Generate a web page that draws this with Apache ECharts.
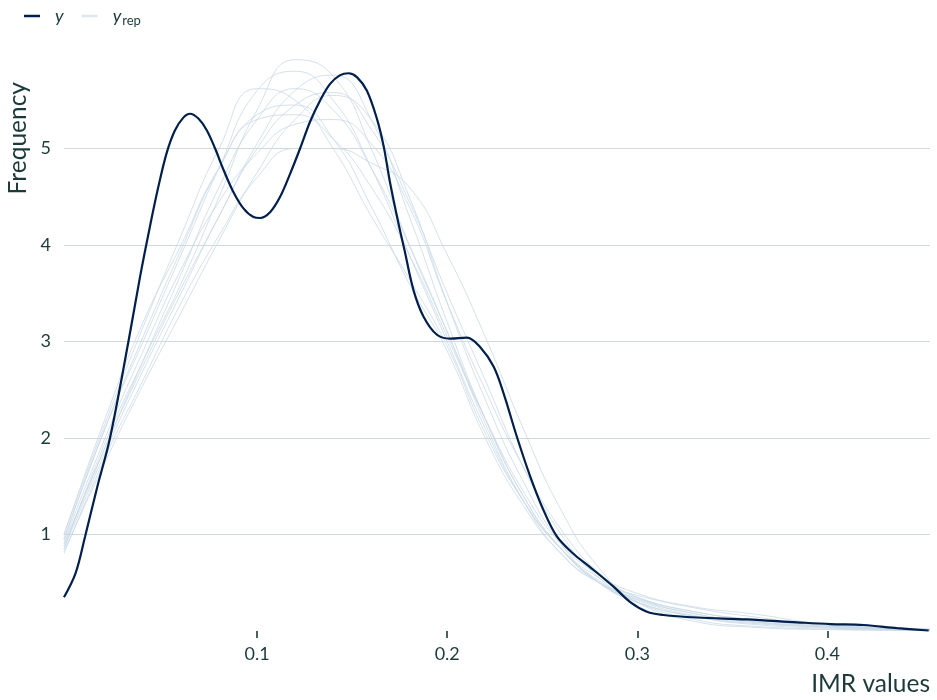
<!DOCTYPE html>
<html>
<head>
<meta charset="utf-8">
<script src="https://cdn.jsdelivr.net/npm/echarts@6/dist/echarts.min.js"></script>
<style>
html,body{margin:0;padding:0;background:#fff;}
#chart{width:937px;height:700px;}
</style>
</head>
<body>
<div id="chart"></div>
<script>
// Observed density (y)
const yX = [-0.0016, 0.0045, 0.0095, 0.016, 0.0226, 0.0323, 0.0385, 0.0437, 0.0480, 0.0525, 0.0568, 0.0612, 0.0647, 0.0691, 0.0735, 0.0779, 0.0823, 0.0875, 0.0928, 0.0981, 0.1016, 0.1068, 0.1121, 0.1174, 0.1226, 0.1279, 0.1332, 0.1384, 0.1437, 0.1481, 0.1525, 0.1577, 0.1630, 0.1665, 0.1700, 0.1744, 0.1775, 0.1823, 0.1875, 0.1946, 0.2016, 0.2104, 0.2174, 0.2244, 0.2297, 0.2367, 0.2437, 0.2507, 0.2577, 0.2664, 0.2753, 0.2875, 0.2963, 0.3051, 0.3138, 0.3314, 0.3577, 0.3841, 0.4016, 0.4191, 0.4367, 0.4533];
const yY = [0.35, 0.6, 0.98, 1.5, 2.0, 3.0, 3.68, 4.2, 4.6, 4.96, 5.19, 5.32, 5.36, 5.31, 5.19, 5.0, 4.78, 4.55, 4.38, 4.29, 4.28, 4.34, 4.50, 4.74, 5.0, 5.28, 5.50, 5.67, 5.76, 5.78, 5.74, 5.60, 5.31, 5.03, 4.64, 4.22, 3.95, 3.53, 3.26, 3.07, 3.03, 3.04, 2.94, 2.74, 2.46, 2.01, 1.60, 1.25, 0.98, 0.80, 0.66, 0.46, 0.30, 0.20, 0.166, 0.14, 0.12, 0.09, 0.072, 0.062, 0.03, 0.005];

// Replicated densities (y_rep)
const repX = [-0.0016, 0.02, 0.04, 0.06, 0.08, 0.10, 0.12, 0.14, 0.16, 0.18, 0.20, 0.22, 0.24, 0.26, 0.28, 0.30, 0.33, 0.36, 0.40, 0.454];
const rep1  = [0.85, 1.95, 2.8, 3.6, 4.5, 5.4, 5.92, 5.75, 5.0, 4.0, 3.1, 2.2, 1.4, 0.85, 0.5, 0.3, 0.15, 0.08, 0.04, 0.01];
const rep2  = [0.95, 2.1, 3.0, 3.9, 4.8, 5.6, 5.8, 5.5, 4.8, 3.9, 3.0, 2.1, 1.35, 0.85, 0.55, 0.35, 0.2, 0.12, 0.05, 0.01];
const rep3  = [0.9, 1.9, 2.75, 3.55, 4.3, 5.05, 5.6, 5.76, 5.3, 4.3, 3.2, 2.2, 1.4, 0.85, 0.5, 0.32, 0.16, 0.09, 0.04, 0.01];
const rep4  = [1.0, 2.15, 3.15, 4.1, 5.0, 5.62, 5.5, 5.0, 4.3, 3.65, 2.95, 2.05, 1.35, 0.85, 0.52, 0.33, 0.18, 0.1, 0.05, 0.015];
const rep5  = [0.88, 1.9, 2.8, 3.7, 4.6, 5.3, 5.62, 5.4, 4.8, 4.0, 3.1, 2.15, 1.35, 0.8, 0.5, 0.37, 0.24, 0.15, 0.06, 0.015];
const rep6  = [1.0, 2.2, 3.2, 4.0, 4.8, 5.3, 5.35, 5.1, 4.6, 3.9, 3.05, 2.2, 1.45, 0.9, 0.58, 0.39, 0.25, 0.18, 0.07, 0.02];
const rep7  = [0.92, 2.0, 2.9, 3.75, 4.45, 4.95, 5.25, 5.3, 5.05, 4.4, 3.4, 2.5, 1.7, 1.05, 0.6, 0.35, 0.18, 0.1, 0.04, 0.01];
const rep8  = [0.85, 1.85, 2.7, 3.5, 4.3, 5.0, 5.45, 5.58, 5.2, 4.45, 3.5, 2.6, 1.7, 1.0, 0.55, 0.3, 0.12, 0.05, 0.02, 0.005];
const rep9  = [0.8, 1.8, 2.6, 3.4, 4.1, 4.7, 5.0, 5.0, 4.85, 4.6, 3.9, 3.05, 2.1, 1.25, 0.65, 0.3, 0.1, 0.04, 0.015, 0.005];
const rep10 = [0.95, 2.1, 3.05, 3.95, 4.8, 5.35, 5.45, 5.1, 4.4, 3.6, 2.9, 2.0, 1.3, 0.8, 0.5, 0.34, 0.2, 0.12, 0.06, 0.02];
const rep11 = [0.82, 1.75, 2.55, 3.3, 4.05, 4.75, 5.3, 5.55, 5.3, 4.5, 3.4, 2.4, 1.55, 0.9, 0.5, 0.3, 0.15, 0.07, 0.03, 0.01];
const repList = [rep1, rep2, rep3, rep4, rep5, rep6, rep7, rep8, rep9, rep10, rep11];

// Axis ticks
const xTicks = [0.1, 0.2, 0.3, 0.4];
const yTicks = [1, 2, 3, 4, 5];

const TXT = '#1c3a3a';
const FONT = 'Lato';
const REP_COLOR = '#c9d9e6';
const Y_COLOR = '#011f4b';

const zip = (xs, ys) => xs.map((x, i) => [x, ys[i]]);

const series = repList.map(r => ({
  name: 'y_rep',
  type: 'line',
  data: zip(repX, r),
  smooth: 0.5,
  symbol: 'none',
  showSymbol: false,
  silent: true,
  lineStyle: { color: REP_COLOR, width: 0.8 },
  itemStyle: { color: REP_COLOR },
  z: 2
}));
series.push({
  name: 'y',
  type: 'line',
  data: zip(yX, yY),
  smooth: 0.35,
  symbol: 'none',
  showSymbol: false,
  lineStyle: { color: Y_COLOR, width: 2.2 },
  itemStyle: { color: Y_COLOR },
  z: 5
});

const chart = echarts.init(document.getElementById('chart'), null, { renderer: 'canvas' });
chart.setOption({
  animation: false,
  backgroundColor: '#ffffff',
  textStyle: { fontFamily: FONT, color: TXT },
  legend: {
    left: 19,
    top: 2,
    itemWidth: 16,
    itemHeight: 2.5,
    itemGap: 18,
    data: [
      { name: 'y', icon: 'rect', itemStyle: { color: Y_COLOR } },
      { name: 'y_rep', icon: 'rect', itemStyle: { color: '#dfe8ef' } }
    ],
    formatter: name => name === 'y' ? '{it|y}' : '{it|y}{sub|rep}',
    textStyle: {
      padding: [0, 0, 0, 10],
      rich: {
        it: { fontFamily: FONT, fontStyle: 'italic', fontSize: 18, color: TXT },
        sub: { fontFamily: FONT, fontSize: 13, color: TXT, padding: [9, 0, 0, 1] }
      }
    }
  },
  grid: { left: 64, right: 7, top: 52, bottom: 69 },
  graphic: [{
    type: 'text',
    left: 6,
    top: 82,
    style: {
      text: 'Frequency',
      fontFamily: FONT, fontSize: 24.5, fill: TXT
    },
    rotation: Math.PI / 2,
    originX: 0, originY: 0
  }],
  xAxis: {
    type: 'value',
    min: -0.0016,
    max: 0.454,
    name: 'IMR values',
    nameLocation: 'end',
    nameGap: 0,
    nameTextStyle: {
      fontFamily: FONT, fontSize: 24.5, color: TXT,
      align: 'right', verticalAlign: 'top', padding: [41, 0, 0, 0]
    },
    axisLine: { show: false },
    axisTick: {
      show: true, length: 7, customValues: xTicks,
      lineStyle: { color: TXT, width: 1.6 }
    },
    axisLabel: {
      customValues: xTicks, margin: 14,
      fontFamily: FONT, fontSize: 18, color: TXT,
      formatter: v => String(Math.round(v * 10) / 10)
    },
    splitLine: { show: false }
  },
  yAxis: {
    type: 'value',
    min: 0,
    max: 6,
    interval: 1,
    axisLine: { show: false },
    axisTick: { show: false },
    axisLabel: {
      margin: 13, fontFamily: FONT, fontSize: 18, color: TXT,
      showMinLabel: false, showMaxLabel: false
    },
    splitLine: {
      show: true, showMinLine: false, showMaxLine: false,
      lineStyle: { color: '#cfdbdb', width: 1.2 }
    }
  },
  series: series
});
</script>
</body>
</html>
